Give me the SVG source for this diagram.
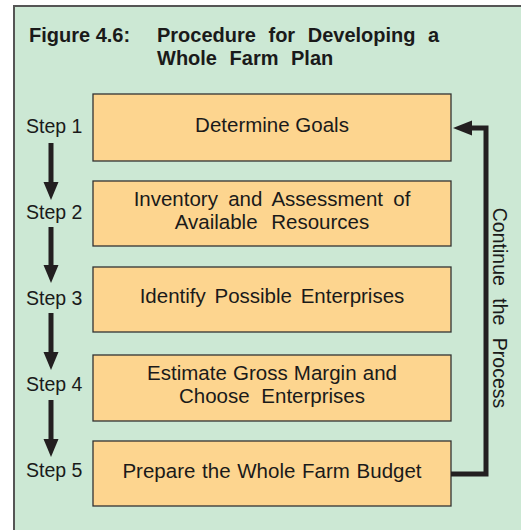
<svg xmlns="http://www.w3.org/2000/svg" width="521" height="530" viewBox="0 0 521 530">
<style>
.title{font-family:"Liberation Sans",Arial,sans-serif;font-size:20px;font-weight:bold;fill:#1a1a1a}
.step{font-family:"Liberation Sans",Arial,sans-serif;font-size:19.5px;fill:#1a1a1a}
.lbl{font-family:"Liberation Sans",Arial,sans-serif;font-size:20.5px;fill:#1a1a1a;text-anchor:middle}
.box{fill:#fdd58f;stroke:#333;stroke-width:1.3}
.arr{fill:#231f20}
.line{fill:none;stroke:#231f20;stroke-width:5;stroke-linejoin:miter}
</style>
<rect width="521" height="530" fill="#ffffff"/>
<rect id="panel" x="14" y="6" width="530" height="550" fill="#cce8d4" stroke="#555" stroke-width="2"/>
<g id="title">
<text class="title" x="29" y="42">Figure 4.6:</text>
<text class="title" x="157" y="42" word-spacing="7">Procedure for Developing a</text>
<text class="title" x="157" y="65" word-spacing="7">Whole Farm Plan</text>
</g>
<g id="steps">
<text class="step" x="26" y="133">Step 1</text>
<text class="step" x="26" y="219">Step 2</text>
<text class="step" x="26" y="305">Step 3</text>
<text class="step" x="26" y="391">Step 4</text>
<text class="step" x="26" y="477">Step 5</text>
</g>
<g id="node1">
<rect class="box" x="93" y="94" width="358" height="67"/>
<text class="lbl" x="272" y="132">Determine Goals</text>
</g>
<g id="node2">
<rect class="box" x="93" y="181" width="358" height="65"/>
<text class="lbl" x="272" y="206" word-spacing="4.5">Inventory and Assessment of</text>
<text class="lbl" x="272" y="229" word-spacing="8">Available Resources</text>
</g>
<g id="node3">
<rect class="box" x="93" y="267" width="358" height="65"/>
<text class="lbl" x="272" y="303" word-spacing="3">Identify Possible Enterprises</text>
</g>
<g id="node4">
<rect class="box" x="93" y="355" width="358" height="66"/>
<text class="lbl" x="272" y="380" word-spacing="0.5">Estimate Gross Margin and</text>
<text class="lbl" x="272" y="403" word-spacing="6">Choose Enterprises</text>
</g>
<g id="node5">
<rect class="box" x="93" y="441" width="358" height="65"/>
<text class="lbl" x="272" y="478" word-spacing="1">Prepare the Whole Farm Budget</text>
</g>
<g id="connectors">
<rect class="arr" x="48.5" y="143" width="5" height="40"/>
<polygon class="arr" points="43.5,182 58.5,182 51,200"/>
<rect class="arr" x="48.5" y="227" width="5" height="39"/>
<polygon class="arr" points="43.5,265 58.5,265 51,283"/>
<rect class="arr" x="48.5" y="313" width="5" height="40"/>
<polygon class="arr" points="43.5,352 58.5,352 51,370"/>
<rect class="arr" x="48.5" y="400" width="5" height="40"/>
<polygon class="arr" points="43.5,439 58.5,439 51,457"/>
<polyline class="line" points="451,474 486,474 486,128 470,128"/>
<polygon class="arr" points="453,128 472,120.5 472,135.5"/>
<text class="step" transform="translate(493,308) rotate(90)" text-anchor="middle" word-spacing="7">Continue the Process</text>
</g>
</svg>
